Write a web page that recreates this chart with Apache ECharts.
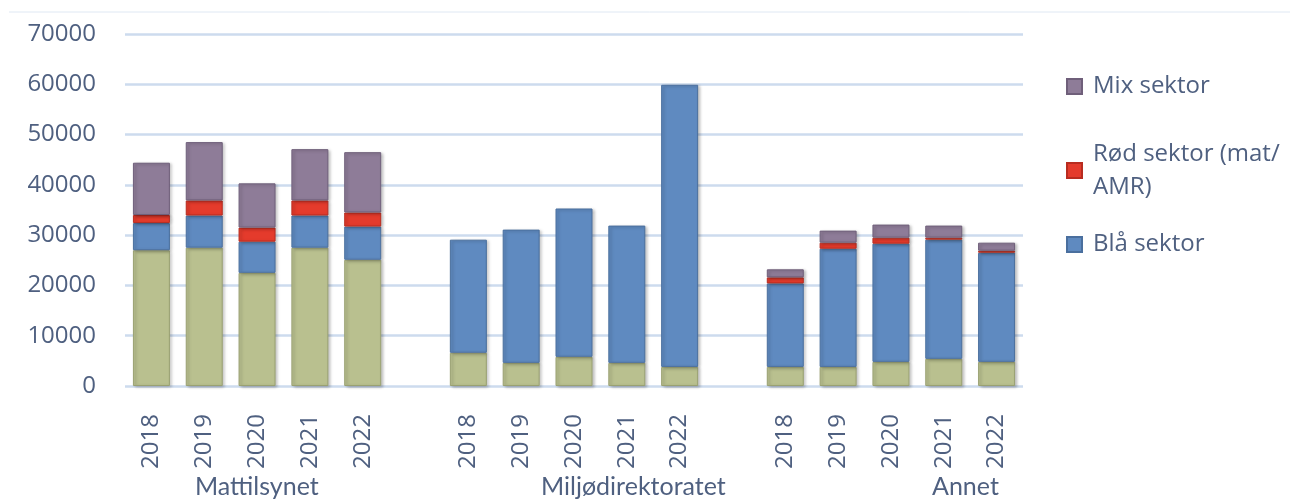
<!DOCTYPE html>
<html>
<head>
<meta charset="utf-8">
<script src="https://cdn.jsdelivr.net/npm/echarts@6/dist/echarts.min.js"></script>
<style>
  html, body { margin: 0; padding: 0; background: #fff; }
  #chart { width: 1296px; height: 501px; }
</style>
</head>
<body>
<div id="chart"></div>
<script>
// aar og grupper
const years = ["2018", "2019", "2020", "2021", "2022"];
const groups = ["Mattilsynet", "Miljødirektoratet", "Annet"];

// verdier per gruppe, null = ingen verdi
const gronn = [
  [27000, 27500, 22500, 27500, 25100],
  [6600, 4600, 5800, 4600, 3800],
  [3800, 3800, 4800, 5400, 4800]
];
const blaa = [
  [5400, 6400, 6200, 6400, 6600],
  [22500, 26500, 29500, 27300, 56100],
  [16600, 23500, 23500, 23700, 21700]
];
const rod = [
  [1600, 3000, 2800, 3000, 2800],
  [null, null, null, null, null],
  [1200, 1200, 1200, 400, 400]
];
const mix = [
  [10400, 11600, 8800, 10200, 12000],
  [null, null, null, null, null],
  [1600, 2400, 2600, 2400, 1600]
];
const yTicks = [0, 10000, 20000, 30000, 40000, 50000, 60000, 70000];

// lag en kategori-akse med tom plass mellom gruppene
function flatten(arr) {
  let out = [];
  arr.forEach(function (g, i) {
    if (i > 0) out.push(null);
    out = out.concat(g);
  });
  return out;
}
let xData = [];
groups.forEach(function (g, i) {
  if (i > 0) xData.push("");
  xData = xData.concat(years);
});

const textColor = "#4f6080";
const gridColor = "#cddbee";

function barSeries(name, data, color, border) {
  return {
    name: name,
    type: "bar",
    stack: "total",
    barWidth: 37,
    data: flatten(data),
    itemStyle: {
      color: color,
      borderColor: border,
      borderWidth: 1,
      shadowColor: "rgba(0,0,0,0.25)",
      shadowBlur: 3,
      shadowOffsetX: 2,
      shadowOffsetY: 1
    }
  };
}

function legendStyle(padTop) {
  return {
    fontFamily: "Open Sans",
    fontSize: 24,
    color: textColor,
    lineHeight: 33,
    padding: [padTop, 0, 0, 6]
  };
}

let myChart = echarts.init(document.getElementById("chart"));
let option = {
  animation: false,
  grid: {
    left: 125,
    right: 273,
    top: 34,
    height: 352
  },
  legend: [
    {
      data: ["Mix sektor"],
      icon: "rect",
      left: 1066,
      top: 70,
      padding: 0,
      itemWidth: 15,
      itemHeight: 15,
      textStyle: legendStyle(0)
    },
    {
      data: ["Rød sektor (mat/AMR)"],
      icon: "rect",
      left: 1066,
      top: 121,
      padding: 0,
      itemWidth: 15,
      itemHeight: 15,
      formatter: function () {
        return "Rød sektor (mat/\nAMR)";
      },
      textStyle: legendStyle(33)
    },
    {
      data: ["Blå sektor"],
      icon: "rect",
      left: 1066,
      top: 228,
      padding: 0,
      itemWidth: 15,
      itemHeight: 15,
      textStyle: legendStyle(0)
    }
  ],
  xAxis: {
    type: "category",
    data: xData,
    axisLine: { show: false },
    axisTick: { show: false },
    axisLabel: {
      rotate: 90,
      margin: 28,
      interval: 0,
      fontFamily: "Open Sans",
      fontSize: 24,
      color: textColor
    }
  },
  yAxis: {
    type: "value",
    min: yTicks[0],
    max: yTicks[yTicks.length - 1],
    interval: 10000,
    axisLine: { show: false },
    axisTick: { show: false },
    axisLabel: {
      margin: 29,
      fontFamily: "Open Sans",
      fontSize: 24,
      color: textColor,
      formatter: function (v) {
        return String(v);
      }
    },
    splitLine: {
      lineStyle: { color: gridColor, width: 2.5 }
    }
  },
  graphic: [
    {
      type: "line",
      shape: { x1: 9, y1: 12, x2: 1290, y2: 12 },
      style: { stroke: "#dfe8f3", lineWidth: 1 }
    },
    {
      type: "text",
      left: 195,
      top: 474,
      style: { text: groups[0], fontFamily: "Lato", fontSize: 25, fill: textColor }
    },
    {
      type: "text",
      left: 541,
      top: 474,
      style: { text: groups[1], fontFamily: "Lato", fontSize: 25, fill: textColor }
    },
    {
      type: "text",
      left: 932,
      top: 474,
      style: { text: groups[2], fontFamily: "Lato", fontSize: 25, fill: textColor }
    }
  ],
  series: [
    barSeries("Grønn sektor", gronn, "#b9c08f", "#9aa172"),
    barSeries("Blå sektor", blaa, "#5f8ac0", "#4a6f9e"),
    barSeries("Rød sektor (mat/AMR)", rod, "#e43b2c", "#b82c20"),
    barSeries("Mix sektor", mix, "#8e7c98", "#6f5f7a")
  ]
};
myChart.setOption(option);
</script>
</body>
</html>
